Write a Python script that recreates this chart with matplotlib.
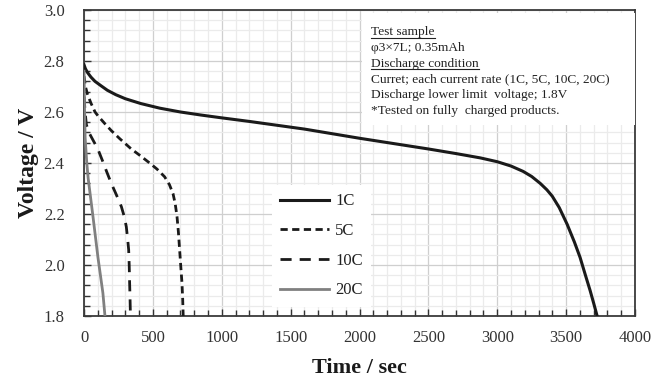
import numpy as np
import matplotlib
matplotlib.use('Agg')
import matplotlib.pyplot as plt
from matplotlib.patches import Rectangle
from matplotlib.lines import Line2D

plt.rcParams['font.family'] = ['Liberation Serif', 'DejaVu Serif']

# discharge curves
t_1c = [0, 10, 25, 50, 80, 123, 170, 230, 300, 413, 550, 700, 850, 1000, 1200, 1400, 1600, 1800,
        2000, 2250, 2500, 2700, 2877, 3000, 3100, 3188, 3250, 3312, 3360, 3399, 3450, 3507, 3560,
        3601, 3640, 3674, 3700, 3725]
v_1c = [2.785, 2.77, 2.755, 2.737, 2.72, 2.703, 2.685, 2.668, 2.652, 2.633, 2.615, 2.600, 2.588,
        2.577, 2.563, 2.548, 2.533, 2.515, 2.497, 2.476, 2.455, 2.437, 2.42, 2.405, 2.388, 2.367,
        2.347, 2.32, 2.295, 2.27, 2.225, 2.16, 2.09, 2.03, 1.96, 1.90, 1.85, 1.80]

t_5c = [0, 10, 25, 50, 80, 101, 150, 198, 260, 343, 410, 476, 530, 585, 620, 646, 662, 675, 685,
        694, 703, 711, 716, 720]
v_5c = [2.74, 2.70, 2.67, 2.635, 2.60, 2.585, 2.555, 2.527, 2.495, 2.455, 2.428, 2.40, 2.376,
        2.346, 2.315, 2.28, 2.24, 2.19, 2.13, 2.06, 1.99, 1.93, 1.87, 1.80]

t_10c = [0, 8, 17, 40, 70, 100, 137, 165, 198, 235, 271, 292, 307, 317, 324, 328, 331, 334, 337]
v_10c = [2.66, 2.60, 2.55, 2.515, 2.485, 2.455, 2.405, 2.365, 2.32, 2.275, 2.229, 2.19, 2.15,
         2.10, 2.06, 2.00, 1.93, 1.87, 1.80]

t_20c = [0, 4, 8, 20, 30, 65, 101, 137, 152]
v_20c = [2.76, 2.60, 2.50, 2.40, 2.34, 2.19, 2.03, 1.89, 1.80]

labels = ['1C', '5C', '10C', '20C']

note_lines = ['Test sample',
              'φ3×7L; 0.35mAh',
              'Discharge condition',
              'Curret; each current rate (1C, 5C, 10C, 20C)',
              'Discharge lower limit  voltage; 1.8V',
              '*Tested on fully  charged products.']
underlined = [0, 2]

dash_5c = (0, (2.6, 1.6))
dash_10c = (0, (4.0, 2.9))

fig = plt.figure(figsize=(6.69, 3.77), dpi=100)
ax = fig.add_axes([0.1256, 0.1618, 0.8236, 0.8117])

ax.plot(t_1c, v_1c, color='#1a1a1a', lw=2.2, zorder=4)
ax.plot(t_5c, v_5c, color='#1a1a1a', lw=2.0, ls=dash_5c, zorder=4)
ax.plot(t_10c, v_10c, color='#1a1a1a', lw=2.0, ls=dash_10c, zorder=4)
ax.plot(t_20c, v_20c, color='#808080', lw=2.0, zorder=4)

ax.set_xlim(0, 4000)
ax.set_ylim(1.8, 3.0)
ax.set_xticks(np.arange(0, 4001, 500))
ax.set_xticks(np.arange(0, 4001, 100), minor=True)
ax.set_yticks(np.arange(1.8, 3.01, 0.2))
ax.set_yticks(np.arange(1.8, 3.001, 0.04), minor=True)
ax.set_yticklabels(['%.1f' % v for v in np.arange(1.8, 3.01, 0.2)])

ax.grid(which='major', color='#cfcfcf', lw=0.9)
ax.grid(which='minor', color='#ebebeb', lw=0.9)
ax.set_axisbelow(True)

ax.tick_params(which='both', direction='in', colors='#333333', labelsize=12)
ax.tick_params(which='major', length=5, width=1)
ax.tick_params(which='minor', length=4, width=1)
ax.tick_params(axis='y', pad=14)
ax.tick_params(axis='x', pad=10)
for s in ax.spines.values():
    s.set_color('#3a3a3a')
    s.set_linewidth(1.3)

ax.set_xlabel('Time / sec', fontsize=16, fontweight='bold', color='#1a1a1a', labelpad=9)
ax.set_ylabel('Voltage / V', fontsize=17, fontweight='bold', color='#1a1a1a', labelpad=3)

# note box (white, covers the grid)
ax.add_patch(Rectangle((0.505, 0.624), 0.495, 0.366, transform=ax.transAxes,
                       facecolor='white', edgecolor='none', zorder=3))
y0, dy = 0.917, 0.0515
texts = []
for i, line in enumerate(note_lines):
    tx = ax.text(0.521, y0 - i * dy, line, transform=ax.transAxes,
                 fontsize=9.6, color='#222222', va='baseline', ha='left', zorder=5)
    texts.append(tx)

handles = [Line2D([], [], color='#1a1a1a', lw=2.2),
           Line2D([], [], color='#1a1a1a', lw=2.0, ls=dash_5c),
           Line2D([], [], color='#1a1a1a', lw=2.0, ls=dash_10c),
           Line2D([], [], color='#808080', lw=2.0)]
leg = ax.legend(handles, labels, loc='upper left', bbox_to_anchor=(0.326, 0.455),
                fontsize=12, frameon=True, framealpha=1, edgecolor='none',
                facecolor='white', fancybox=False, handlelength=2.95,
                handletextpad=0.35, labelspacing=0.82, borderpad=0.5)
leg.set_zorder(5)
for t in leg.get_texts():
    t.set_color('#222222')

# underline the two headings
fig.canvas.draw()
r = fig.canvas.get_renderer()
inv = ax.transAxes.inverted()
for i in underlined:
    bb = texts[i].get_window_extent(r)
    (x0, _), (x1, _) = inv.transform([(bb.x0, bb.y0), (bb.x1, bb.y0)])
    yb = y0 - i * dy - 0.008
    ax.plot([x0, x1], [yb, yb], transform=ax.transAxes, color='#222222', lw=0.8, zorder=5)

fig.savefig('out.png', dpi=100)
